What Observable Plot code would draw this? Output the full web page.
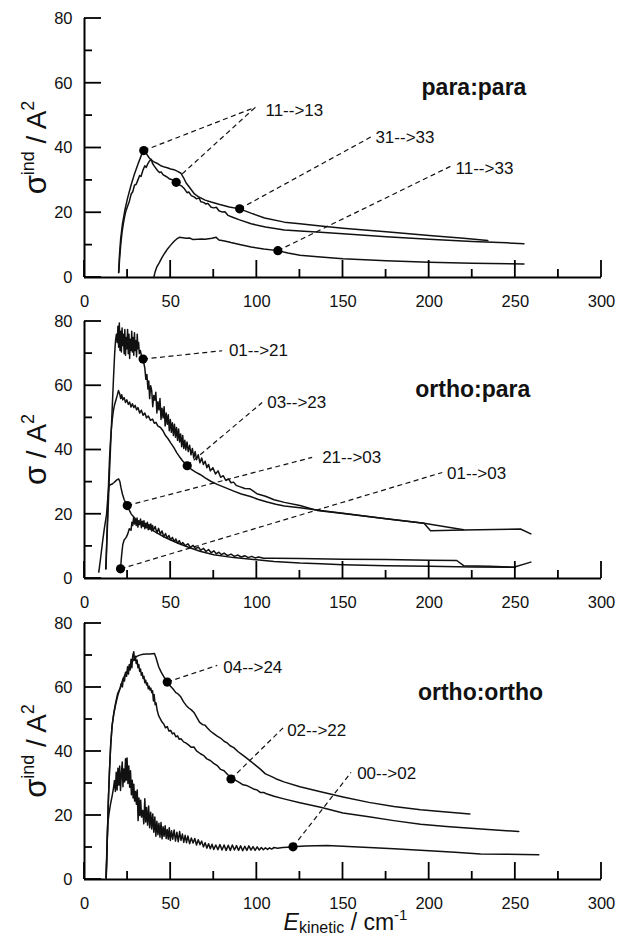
<!DOCTYPE html>
<html><head><meta charset="utf-8">
<script src="https://cdn.jsdelivr.net/npm/d3@7"></script>
<script src="https://cdn.jsdelivr.net/npm/@observablehq/plot@0.6"></script>
<style>
body{margin:0;background:#fff;}
#chart{width:618px;height:938px;overflow:hidden;background:#fff;}
#chart svg{display:block;}
</style></head><body><div id="chart"></div>
<script>
const xMajor = [0, 50, 100, 150, 200, 250, 300];
const xMinor = [25, 75, 125, 175, 225, 275];
const yMajor = [0, 20, 40, 60, 80];
const yMinor = [10, 30, 50, 70];

// ---------- para:para ----------
const ppUpper = [[19.8,1.5],[20.3,7],[21,12],[22,16.5],[23.5,21],[25,24.5],[27,28.5],[29,32],[31,35],[33,37.8],[34.4,39.2],[36,38.2],[37.5,37],[38.7,36.3],[40,35.8],[42,35.3],[44,34.6],[46.4,34.1],[48,33.9],[50,33.5],[52,33.3],[54,32.8],[56,32.2],[57.5,30.8],[59,29.2],[61,27.8],[63.8,25.8],[66,25],[70,23.9],[73.5,23.3],[78,22.6],[84,21.8],[90,21.2],[97,19.8],[104.5,18.4],[116,17.1],[125,16.6],[137,15.9],[150,15.2],[175,14.1],[200,13.0],[220,12.1],[234,11.4]];
const ppLower = [[19.9,1.6],[20.4,6],[21,10],[21.8,14],[22.5,16.5],[23.2,18.6],[24,20.5],[25,22],[26,23.5],[27.1,25.8],[28,26.5],[29,28.5],[30,28.8],[30.9,30],[32,31.5],[32.8,31.2],[33.8,33],[35,34.5],[35.8,34],[36.7,35.1],[37.5,35.8],[38.7,36.5],[39.5,35.2],[40.5,34.4],[41.6,33.6],[42.5,33],[43.5,32.4],[44.5,32.6],[45.5,31.8],[46.4,31.5],[48,31],[49.5,30.4],[51,30.2],[53.2,29.4],[55,28.6],[56.5,28.2],[58,27.4],[59.5,26.2],[60.5,26.4],[62,25.3],[63.8,24.8],[65,24.3],[66.5,24.6],[67.5,23.4],[69,23.2],[70.5,22.7],[71.5,22.9],[73.5,21.7],[75,21.5],[76.5,21.7],[78,20.6],[80,20.2],[81.5,20.3],[83.2,19.2],[86,18.6],[90,17.8],[96.7,16.6],[105,15.6],[116,14.7],[125,14.4],[137,14],[150,13.5],[175,12.6],[200,11.8],[225,11.1],[245,10.7],[255,10.4]];
const pp11to33 = [[40.2,0],[41,1.8],[42,3.3],[43.5,4.7],[45,6.2],[46.5,7.5],[48.3,8.9],[50,10],[52,11.2],[53.5,11.9],[55.1,12.4],[57,12.3],[59,12.1],[61,12.2],[63,11.7],[65.8,11.8],[68,11.9],[70,11.8],[72,12.0],[74,12.1],[76.4,12.4],[78,11.6],[81.3,11.3],[85,10.8],[90,10.2],[96.7,9.4],[104,8.8],[112.2,8.3],[118,7.6],[125,6.9],[137,6.3],[150,5.8],[175,5.2],[200,4.7],[225,4.4],[255,4.2]];
const ppDots = [[34.4,39.2],[53.2,29.4],[90,21.2],[112.2,8.3]];
const ppLeaders = [[34.4,39.2,99.2,52.6],[56.7,32,99.2,52.6],[90,21.2,167.9,43.9],[112.2,8.3,213.4,34.6]];
const ppLabels = [[105,51.6,"11-->13"],[168.8,43.3,"31-->33"],[215.3,33.6,"11-->33"]];

// ---------- ortho:para ----------
const op01to21 = [[12.3,3],[13,12],[13.8,23],[14.5,33],[15.2,42],[16,52],[16.8,62],[17.5,70],[18,74],[18.5,76],[19,73.5],[19.4,78.5],[19.8,72],[20.2,79.5],[20.6,71],[21,77],[21.4,70.5],[21.8,78],[22.2,72.5],[22.6,76],[23,70],[23.4,77.5],[23.8,69.5],[24.2,75],[24.6,71.5],[25,77.5],[25.4,70],[25.8,76],[26.2,68.5],[26.6,74.5],[27,71],[27.4,77],[27.8,70.5],[28.2,75],[28.6,69.5],[29,76.5],[29.4,71],[29.8,74],[30.2,69],[30.6,76],[31,71.5],[31.4,73.5],[31.8,70],[32.4,71],[33,69.5],[34,68.3],[35,65.5],[35.6,62],[36.2,63.5],[36.8,59],[37.3,61.5],[37.8,56],[38.4,60],[39,58.5],[39.6,53.5],[40.2,57],[40.8,55.5],[41.4,58],[42,51.5],[42.6,55],[43.2,52.5],[43.8,56],[44.4,49.5],[45,53],[45.6,50],[46.2,53.5],[46.8,47.5],[47.4,51.5],[48,48],[48.6,51],[49.2,46],[49.8,49.5],[50.4,45.5],[51,48.5],[51.6,44.5],[52.2,48],[52.8,44],[53.4,47],[54,43],[54.6,46.5],[55.2,42.5],[55.8,45],[56.4,41],[57,44.5],[57.6,40.5],[58.2,43],[58.8,40],[59.5,42.5],[60.2,39.5],[61,41.5],[61.8,38.5],[62.6,40.5],[63.4,37.5],[64.2,39.5],[65,37],[66,38.5],[67,36],[68,37.5],[69,35.5],[70,36.5],[71,34.5],[72,35.5],[73,33.5],[74.5,34.5],[76,32.5],[77.5,33.5],[79,31.5],[80.5,32],[82,30.5],[83.5,31],[85,29.8],[86.5,30],[88,29],[90,28.6],[93,28],[96,27.9],[98,27.2],[100,26.4],[105,25.6],[110,24.5],[116,23.7],[125,22.7],[135,21.2],[150,20.2],[175,18.6],[197,17.2],[220,15.2]];
const op03to23 = [[12.5,3],[13,13],[13.5,22],[14,30],[14.5,37],[15,42],[15.5,46],[16,49],[16.7,52],[17.4,54],[18.2,55.5],[19,57],[19.7,58.5],[20.4,57.5],[21,56],[21.6,57.2],[22.2,55.6],[23,56.3],[23.8,54.8],[24.6,55.6],[25.4,54.2],[26.2,54.9],[27,53.4],[27.8,54.4],[28.6,53.2],[29.4,53.9],[30.2,52.5],[31,53.2],[32,51.5],[33,52.4],[34,50.8],[35,51.5],[36,50],[37,50.6],[38.3,49.2],[39.5,49.6],[40.5,48.3],[41.5,48.6],[42.5,47.5],[44.1,47],[45.5,46],[47,44.5],[48.5,43.5],[50,42.2],[51.8,40.8],[53.5,39.2],[55,38],[57,36.6],[59.6,35.1],[62,34],[64.5,33.1],[67.3,32.3],[70,31.3],[73.5,30.2],[77,29.3],[82,28.2],[86.6,27.2],[91,26.3],[96.3,25.5],[101,24.6],[106,23.8],[111,23.1],[116,22.6],[125,22],[137,21.2],[150,20.3],[175,18.6],[197,17.2],[200.8,14.9],[220,15.1],[253,15.4],[259,13.9]];
const op21to03 = [[8.3,2],[9.5,7],[10.5,11.5],[11.5,15.5],[12.8,20],[13.5,25],[14.1,28.6],[15,29.2],[16,29.4],[17,29.8],[18,30.3],[19,30.8],[19.8,31],[20.5,30.2],[21.2,28.2],[22,26.3],[23,24.6],[24,23.4],[24.8,22.7],[26,21.3],[27,20.2],[28,19.5],[29.5,18.6],[31,17.8],[33,17],[35,16.3],[37.5,15.6],[40,14.8],[43,13.9],[46,13],[50,12],[55,10.8],[60,9.8],[67,8.5],[75,7.4],[86.6,6.5],[100,5.8],[110,5.3],[125,4.8],[137,4.6],[150,4.3],[175,4.0],[200,3.8],[225,3.6],[250,3.5]];
const op01to03 = [[20.9,3],[21.5,7],[22.2,10.5],[23,12],[24.2,12.8],[25.1,13.9],[26,15.5],[27,15],[27.5,17.5],[28,16.5],[28.5,19],[29,17],[29.5,18.5],[30,16.5],[30.5,18.8],[31,16],[31.5,18],[32,16.8],[32.5,18.5],[33,15.8],[33.5,17.8],[34,16.2],[34.5,18],[35,15.5],[35.5,17.2],[36,15.8],[36.5,17.5],[37,15.2],[37.5,16.8],[38,15.4],[38.5,17],[39,14.8],[39.5,16.5],[40,15],[41,16.2],[42,14.2],[43,15.6],[44,13.8],[45,14.8],[46,13],[47,14],[48,12.5],[49,13.4],[50,12],[51,12.8],[52,11.5],[53,12.3],[54,11],[55,11.8],[56,10.6],[57,11.2],[58.5,10.2],[60,10.8],[61.5,9.7],[63,10.3],[64.5,9.3],[66,9.8],[67.5,8.8],[69,9.4],[70.5,8.4],[72,9],[73.5,8],[75,8.6],[76.5,7.7],[78,8.2],[79.5,7.4],[81,7.9],[83,7.1],[85,7.6],[87,6.9],[89,7.3],[91,6.7],[93,7.1],[95,6.5],[97,6.9],[99,6.4],[101,6.7],[104,6.3],[110,6.3],[125,6.2],[150,6.0],[175,5.9],[200,5.7],[216,5.6],[220,4.0],[235,3.8],[249,3.5],[259,5.1]];
const opDots = [[34,68.3],[59.6,35.1],[24.8,22.7],[20.9,3]];
const opLeaders = [[34,68.3,79.9,70.9],[59.6,35.1,103.1,54.8],[24.8,22.7,132.1,37.7],[20.9,3,207.6,33]];
const opLabels = [[83.8,70.9,"01-->21"],[106,54.8,"03-->23"],[137.9,37.7,"21-->03"],[210.4,32.6,"01-->03"]];

// ---------- ortho:ortho ----------
const oo04to24 = [[12.6,0.5],[13.2,12],[13.8,24],[14.5,34],[15.2,42],[16,48],[17,52],[18,55],[19.3,58.2],[20.9,60],[22.2,62.5],[23.5,64],[24.8,65],[26.1,66.8],[27.7,68],[29,69.2],[30.6,69.8],[32.5,70.2],[34,70.4],[36,70.5],[38,70.5],[40.6,70.6],[41.5,69.3],[42.3,67.8],[43.1,66.4],[44.5,64.8],[46,63.4],[47.8,61.8],[49.5,60.6],[51.3,59.6],[53,58.4],[54.3,58.0],[55.7,57.2],[57.5,55.5],[59,54.4],[60.5,53.6],[62,53],[63.5,52.2],[65,50.8],[66.7,49.2],[68.5,48.4],[70,48.2],[71.2,47.4],[73,46.4],[75,45.6],[77,44.8],[78.9,44.2],[81,43.2],[83,42.6],[84.5,41.8],[86.6,41.2],[89,40],[91,39.2],[93,38.4],[96.3,37],[99,35.8],[102,34.5],[105,33],[108,32.3],[111,31.5],[115.7,30.5],[125,29],[137,27.4],[150,25.8],[165,24.1],[179.5,22.8],[195,21.8],[210,21.1],[223.6,20.5]];
const oo02to22 = [[12.6,0.5],[13.2,12],[13.8,24],[14.5,34],[15.2,42],[16,48],[17,51.8],[18,54.5],[19.3,57.5],[20.5,59.5],[21.3,61.2],[22,60.2],[22.6,63],[23.2,62],[23.8,64.8],[24.4,63.5],[25,66.5],[25.5,64.2],[26,67.2],[26.5,65.5],[27,68.8],[27.5,66.2],[28,70],[28.6,71.2],[29,68.5],[29.5,69.8],[30,67.5],[30.5,68.6],[31,66.2],[31.5,67.2],[32,65],[32.5,65.8],[33,63.8],[33.5,64.6],[34,62.8],[34.5,63.5],[35,61.5],[35.5,62.3],[36,60.8],[36.5,61.4],[37,59.6],[37.5,60.4],[38,59.2],[38.5,59.8],[39,58.4],[39.5,59],[40,55.8],[40.4,57.8],[41,54.6],[41.5,55.2],[42.2,52.8],[43,51.2],[44,50.2],[45,49.2],[46,48.6],[47,47.4],[48,47.8],[49,46.4],[50,46.6],[51,45.5],[52,45.8],[53,44.6],[54,44.9],[55,43.8],[56,44],[57.5,43],[59,42.6],[60.5,42],[62,41.3],[63.5,41.4],[65,40.2],[67.3,39.3],[69,38.8],[71,37.7],[73,37.2],[75,36.3],[77,35.6],[79,34.4],[81,34],[83,32.8],[86,31.5],[88,30.9],[90,30.3],[92,29.6],[94,29.4],[96.3,28.8],[98,28.3],[100,28],[102,27.2],[104,27.2],[106,26.7],[110,26],[115.7,25.2],[125,24],[137,22.6],[150,20.8],[165,19.6],[179.5,18.4],[195,17.3],[210,16.6],[230,15.8],[252,15]];
const oo00to02 = [[12.5,0.5],[12.9,8],[13.5,17.4],[14.2,20.5],[15.1,23.6],[16,26],[16.8,28.5],[17.4,30.9],[17.9,27.5],[18.4,33.5],[18.9,28],[19.4,34.8],[19.9,29.5],[20.4,35.5],[20.9,27.8],[21.4,33],[21.9,36.7],[22.3,29],[22.8,34.5],[23.3,30.5],[23.8,37.7],[24.2,31],[24.7,38],[25.2,30],[25.7,35.5],[26.2,28.8],[26.7,34],[27.2,26.5],[27.7,31],[28.2,25.5],[28.6,29.8],[29.1,24.5],[29.6,27.5],[30.1,23.5],[30.6,28],[31.1,18.4],[31.6,25.5],[32.1,20],[32.6,24.8],[33.1,19.5],[33.8,21.6],[34.4,17.4],[35,25.2],[35.5,18],[36,22.5],[36.6,17],[37.2,23],[37.8,16.2],[38.4,21],[39,15.8],[39.6,20.5],[40.2,14.8],[40.8,19.5],[41.4,13.5],[42,18.2],[42.6,14],[43.2,17.6],[43.8,13.2],[44.4,17.8],[45,12.7],[45.6,16.5],[46.2,13.5],[46.8,16.8],[47.4,12.8],[48,15.6],[48.6,12.6],[49.2,16.2],[49.8,12.2],[50.5,15.2],[51.2,12.6],[52,15.5],[52.8,12],[53.6,14.8],[54.4,11.8],[55.2,15],[56,12.2],[56.8,14.2],[57.6,11.6],[58.4,13.8],[59.2,11.5],[60,13.6],[61,11.2],[62,13],[63,11.4],[64,12.8],[65,10.8],[66,12.4],[67,10.9],[68,12],[69,10.2],[70,11.5],[71,9.8],[72,11.2],[73,9.6],[74,11],[75,9.4],[76.2,10.8],[77.4,9.3],[78.6,10.9],[79.8,9.2],[81,10.8],[82.2,9.1],[83.4,10.7],[84.6,9.1],[85.8,10.8],[87,9.2],[88.2,10.6],[89.4,9.1],[90.6,10.5],[91.8,9.0],[93,10.4],[94.2,9.1],[95.4,10.5],[96.6,9.2],[97.8,10.3],[99,9.1],[100.2,10.2],[101.4,9.2],[102.6,10.0],[103.8,9.3],[105,9.9],[106.2,9.4],[107.4,9.9],[108.6,9.5],[110,10],[112,9.8],[115,10],[118,10.1],[121,10.2],[128,10.5],[140.8,10.6],[150,10.4],[165,10.0],[179.5,9.6],[200,9.0],[215,8.5],[229.8,8.0],[245,7.9],[263.6,7.7]];
const ooDots = [[48,61.7],[85,31.4],[121,10.2]];
const ooLeaders = [[48,61.7,77,66.9],[85,31.4,116.6,48.1],[121,10.2,154.7,33.5]];
const ooLabels = [[80.5,66.3,"04-->24"],[117.6,46.6,"02-->22"],[158.2,33,"00-->02"]];

const titles = ["para:para", "ortho:para", "ortho:ortho"];
const titlePos = [[226,58.8],[225.3,58.7],[229.8,58.5]];

const FONT = "Liberation Sans, Arial, Helvetica, sans-serif";

function panel(cfg) {
  const {height, marginTop, marginBottom, curves, dots, leaders, labels, title, titleAt} = cfg;
  const marks = [
    Plot.axisX({ticks: xMajor, tickSize: 0, tickPadding: 18, fontSize: 16.5, label: null}),
    Plot.axisY({ticks: yMajor, tickSize: 0, tickPadding: 12, fontSize: 16.5, label: null}),
    Plot.ruleY([0], {stroke: "#000", strokeWidth: 2}),
    Plot.ruleX([0], {stroke: "#000", strokeWidth: 2}),
    ...curves.map(c => Plot.line(c, {x: d => d[0], y: d => d[1], stroke: "#111", strokeWidth: 1.5, curve: "linear"})),
    Plot.link(leaders, {x1: d => d[0], y1: d => d[1], x2: d => d[2], y2: d => d[3], stroke: "#111", strokeWidth: 1.2, strokeDasharray: "5,3.5"}),
    Plot.dot(dots, {x: d => d[0], y: d => d[1], r: 4.6, fill: "#000", stroke: "none"}),
    Plot.text(labels, {x: d => d[0], y: d => d[1], text: d => d[2], textAnchor: "start", fontSize: 17, fill: "#111"}),
    Plot.text([title], {x: () => titleAt[0], y: () => titleAt[1], text: d => d, fontSize: 23, fontWeight: "bold", fill: "#111"})
  ];
  return Plot.plot({
    width: 618, height, marginLeft: 84, marginRight: 17, marginTop, marginBottom,
    style: {fontFamily: FONT, background: "#fff", color: "#111"},
    x: {domain: [0, 300]},
    y: {domain: [0, 80]},
    marks
  });
}

// inward-pointing tick marks, positioned with the plot's own scales
function addTicks(svg) {
  const sx = svg.scale("x"), sy = svg.scale("y");
  const x0 = sx.apply(0), y0 = sy.apply(0);
  const g = d3.select(svg).append("g").attr("stroke", "#000").attr("stroke-width", 1.8).attr("fill", "none");
  xMajor.forEach(v => g.append("line").attr("x1", sx.apply(v)).attr("x2", sx.apply(v)).attr("y1", y0).attr("y2", y0 - 17));
  xMinor.forEach(v => g.append("line").attr("x1", sx.apply(v)).attr("x2", sx.apply(v)).attr("y1", y0).attr("y2", y0 - 8));
  yMajor.forEach(v => g.append("line").attr("y1", sy.apply(v)).attr("y2", sy.apply(v)).attr("x1", x0).attr("x2", x0 + 17));
  yMinor.forEach(v => g.append("line").attr("y1", sy.apply(v)).attr("y2", sy.apply(v)).attr("x1", x0).attr("x2", x0 + 8));
}

function addYLabel(svg, sup) {
  const cy = svg.scale("y").apply(40);
  const t = d3.select(svg).append("text")
    .attr("transform", `translate(46,${cy}) rotate(-90)`)
    .attr("text-anchor", "middle")
    .attr("font-family", FONT)
    .attr("fill", "#111");
  t.append("tspan").attr("font-size", 31).text("σ");
  if (sup) t.append("tspan").attr("font-size", 18).attr("dy", -12).text(sup);
  t.append("tspan").attr("font-size", 28).attr("dy", sup ? 12 : 0).text(" / A");
  t.append("tspan").attr("font-size", 18).attr("dy", -12).text("2");
}

const chart = document.getElementById("chart");
const cfgs = [
  {height: 312, marginTop: 18, marginBottom: 35, curves: [ppUpper, ppLower, pp11to33], dots: ppDots, leaders: ppLeaders, labels: ppLabels, title: titles[0], titleAt: titlePos[0], sup: "ind"},
  {height: 300, marginTop: 9, marginBottom: 34, curves: [op01to21, op03to23, op21to03, op01to03], dots: opDots, leaders: opLeaders, labels: opLabels, title: titles[1], titleAt: titlePos[1], sup: null},
  {height: 326, marginTop: 11, marginBottom: 59, curves: [oo04to24, oo02to22, oo00to02], dots: ooDots, leaders: ooLeaders, labels: ooLabels, title: titles[2], titleAt: titlePos[2], sup: "ind"}
];
cfgs.forEach((c, i) => {
  const svg = panel(c);
  addTicks(svg);
  addYLabel(svg, c.sup);
  if (i === 2) {
    const cx = (svg.scale("x").apply(0) + svg.scale("x").apply(300)) / 2 + 3;
    const t = d3.select(svg).append("text")
      .attr("x", cx).attr("y", 318)
      .attr("text-anchor", "middle")
      .attr("font-family", FONT).attr("fill", "#111");
    t.append("tspan").attr("font-size", 23).attr("font-style", "italic").text("E");
    t.append("tspan").attr("font-size", 16).attr("dy", 3).text("kinetic");
    t.append("tspan").attr("font-size", 23).attr("dy", -3).text(" / cm");
    t.append("tspan").attr("font-size", 15).attr("dy", -10).text("-1");
  }
  chart.appendChild(svg);
});
</script>
</body></html>
